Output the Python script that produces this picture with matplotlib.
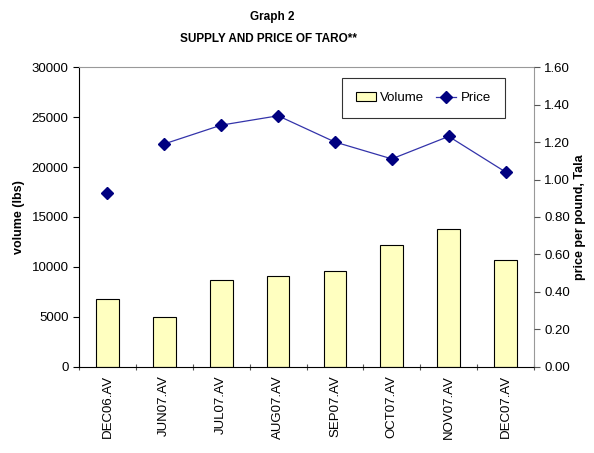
import matplotlib
matplotlib.use("Agg")
import matplotlib.pyplot as plt
import numpy as np
from matplotlib.ticker import FixedLocator, FuncFormatter
from matplotlib.lines import Line2D
from matplotlib.patches import Patch

plt.rcParams['font.family'] = ['Liberation Sans', 'DejaVu Sans']

categories = ["DEC06.AV", "JUN07.AV", "JUL07.AV", "AUG07.AV", "SEP07.AV", "OCT07.AV", "NOV07.AV", "DEC07.AV"]
volume = [6770, 5000, 8670, 9070, 9630, 12200, 13770, 10670]
price = [0.93, 1.19, 1.29, 1.34, 1.20, 1.11, 1.23, 1.04]
connected_from = 1  # line connects points from JUN07 onward

fig = plt.figure(figsize=(5.94, 4.53), dpi=100)
ax = fig.add_axes([0.133, 0.190, 0.766, 0.662])
x = np.arange(len(categories))
ax.bar(x, volume, width=0.4, color="#ffffc0", edgecolor="black", linewidth=0.8, label="Volume", zorder=2)
ax.set_xlim(-0.5, len(categories) - 0.5)
ax.set_ylim(0, 30000)
ax.set_yticks(np.arange(0, 30001, 5000))
ax.set_ylabel("volume (lbs)", fontsize=9, fontweight="bold", labelpad=5)
ax.xaxis.set_major_locator(FixedLocator(np.arange(-0.5, len(categories), 1.0)))
ax.xaxis.set_major_formatter(FuncFormatter(lambda v, p: ""))
ax.xaxis.set_minor_locator(FixedLocator(x))
ax.set_xticklabels(categories, minor=True, rotation=90, fontsize=9.5)
ax.tick_params(axis="x", which="minor", length=0, pad=6)
ax.tick_params(axis="x", which="major", length=5, direction="inout", color="#555555")
ax.tick_params(axis="y", labelsize=9.5, length=4, direction="out")
ax.spines["top"].set_color("#999999")
ax.spines["right"].set_color("#999999")
ax.spines["left"].set_color("black")
ax.spines["bottom"].set_color("black")

ax2 = ax.twinx()
ax2.set_ylim(0, 1.6)
ax2.set_yticks(np.arange(0, 1.61, 0.2))
ax2.yaxis.set_major_formatter(FuncFormatter(lambda v, p: f"{v:.2f}"))
ax2.tick_params(axis="y", labelsize=9.5, length=4, direction="out", color="#555555")
ax2.set_ylabel("price per pound, Tala", fontsize=9, fontweight="bold", labelpad=3)
ax2.plot(x[connected_from:], price[connected_from:], color="#3333aa", linewidth=0.9, zorder=3)
ax2.plot(x, price, linestyle="none", marker="D", markersize=6.5, color="#000080", zorder=4)
for s in ax2.spines.values():
    s.set_visible(False)

handles = [Patch(facecolor="#ffffc0", edgecolor="black", linewidth=0.8),
           Line2D([0], [0], color="#3333aa", linewidth=0.9, marker="D", markersize=6,
                  markerfacecolor="#000080", markeredgecolor="#000080")]
leg = ax2.legend(handles, ["Volume", "Price"], ncol=2, loc="upper right", bbox_to_anchor=(0.936, 0.963),
                 frameon=True, fancybox=False, edgecolor="black", fontsize=9.5, borderpad=1.05,
                 columnspacing=0.9, handlelength=1.5, handletextpad=0.35, borderaxespad=0)
leg.get_frame().set_linewidth(0.8)

fig.text(0.458, 0.955, "Graph 2", ha="center", fontsize=8.5, fontweight="bold")
fig.text(0.452, 0.908, "SUPPLY AND PRICE OF TARO**", ha="center", fontsize=8.5, fontweight="bold")

fig.savefig("out.png", dpi=100)
